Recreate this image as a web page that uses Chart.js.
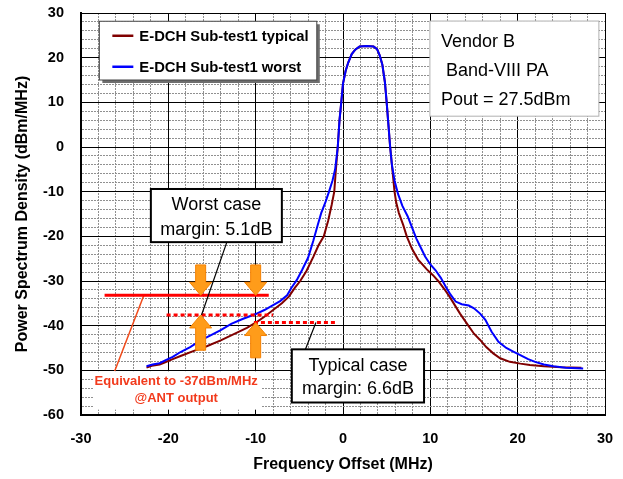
<!DOCTYPE html>
<html>
<head>
<meta charset="utf-8">
<script src="https://cdn.jsdelivr.net/npm/chart.js@4.4.1/dist/chart.umd.min.js"></script>
<style>
  html, body { margin: 0; padding: 0; background: #fff; }
</style>
</head>
<body>
<canvas id="chart" width="623" height="479"></canvas>
<script>
"use strict";

// series labels
const seriesLabels = ["E-DCH Sub-test1 typical", "E-DCH Sub-test1 worst"];

// E-DCH typical (MHz / dBm/MHz)
const typicalFreq = [
  -22.5, -21.9, -21.0, -20.5, -19.5, -18.6, -17.0, -15.6, -14.0, -12.2, -11.0, -9.9,
  -9.0, -8.0, -7.0, -6.2, -5.5, -4.9, -4.2, -3.4, -2.8, -2.2, -1.7, -1.3, -1.0, -0.85,
  -0.6, -0.4, -0.2, 0.0, 0.3, 0.6, 1.0, 1.4, 1.9, 2.7, 3.5, 3.9, 4.2, 4.5, 4.8, 5.0,
  5.2, 5.4, 5.6, 5.75, 5.9, 6.1, 6.4, 6.9, 7.3, 7.9, 8.6, 9.6, 10.3, 10.9, 11.6, 12.2,
  12.8, 13.4, 14.35, 15.0, 15.7, 16.4, 17.2, 18.0, 19.1, 20.3, 21.4, 23.0, 25.0, 27.3
];
const typicalPsd = [
  -49.4, -49.0, -48.7, -48.3, -47.5, -46.8, -45.6, -44.6, -43.3, -41.6, -40.5, -39.2,
  -38.0, -36.5, -35.0, -33.5, -31.5, -30.0, -27.8, -24.6, -22.0, -20.0, -16.5, -13.0, -10.0, -6.0,
  0.0, 6.0, 10.0, 14.2, 17.0, 18.9, 20.8, 21.8, 22.5, 22.6, 22.5, 21.9, 20.5, 18.5, 14.5, 10.0,
  5.0, 0.0, -4.0, -7.0, -10.0, -12.5, -14.8, -17.5, -20.0, -22.8, -25.2, -27.4, -28.7, -30.0, -31.8, -33.5,
  -35.4, -37.3, -40.0, -41.8, -43.2, -44.8, -46.2, -47.3, -48.1, -48.5, -48.8, -49.1, -49.3, -49.4
];

// E-DCH worst
const worstFreq = [
  -22.5, -21.8, -21.0, -20.3, -19.5, -18.6, -17.5, -16.3, -15.0, -14.0, -12.8, -11.5,
  -10.0, -9.0, -8.0, -7.2, -6.4, -5.9, -5.3, -4.7, -4.0, -3.4, -2.9, -2.5, -2.0, -1.6,
  -1.2, -0.9, -0.6, -0.4, -0.2, 0.0, 0.3, 0.6, 1.0, 1.4, 1.9, 2.7, 3.5, 3.9, 4.2, 4.5,
  4.8, 5.0, 5.2, 5.4, 5.6, 5.9, 6.3, 6.8, 7.4, 7.9, 8.4, 8.9, 9.4, 10.0, 10.6, 11.2,
  11.8, 12.3, 12.9, 13.6, 14.4, 15.0, 15.7, 16.3, 17.0, 17.8, 18.7, 19.5, 20.3, 21.2,
  22.0, 23.0, 24.1, 25.5, 27.5
];
const worstPsd = [
  -49.1, -48.7, -48.4, -47.7, -47.0, -45.9, -44.8, -43.3, -42.0, -41.0, -39.6, -38.5,
  -37.4, -36.5, -35.4, -34.5, -33.2, -31.5, -29.8, -27.6, -24.8, -21.0, -17.5, -14.8, -12.3, -10.0,
  -7.5, -5.0, 0.0, 6.0, 10.0, 14.2, 17.0, 18.9, 20.8, 21.8, 22.5, 22.6, 22.5, 21.9, 20.5, 18.5,
  14.5, 10.0, 5.0, 0.0, -4.0, -7.5, -10.5, -13.2, -15.5, -18.0, -20.5, -22.5, -24.5, -26.3, -27.6, -29.3,
  -31.4, -33.0, -34.6, -35.2, -35.5, -36.1, -37.3, -38.7, -41.3, -43.6, -45.0, -45.8, -46.6, -47.5,
  -48.1, -48.7, -49.1, -49.4, -49.6
];

// limit and measured levels (dBm/MHz), with their MHz spans
const limitLevel = -33.2;
const limitSpan = [-27.3, -8.5];
const worstLevel = -37.6;
const worstSpan = [-20.2, -8.0];
const typicalLevel = -39.3;
const typicalSpan = [-10.2, -0.9];
const arrowFreqs = [-16.3, -10.0];

const infoLines = ["Vendor B", " Band-VIII PA", "Pout = 27.5dBm"];
const worstNote = ["Worst case", "margin: 5.1dB"];
const typicalNote = ["Typical case", "margin: 6.6dB"];
const limitNote = ["Equivalent to -37dBm/MHz", "@ANT output"];

const FONT = "'Liberation Sans', Arial, sans-serif";
Chart.defaults.font.family = FONT;
Chart.defaults.color = "#000";

function toPoints(xs, ys) {
  return xs.map((v, i) => ({ x: v, y: ys[i] }));
}

function isMajor(v) {
  return Math.abs(v % 10) < 1e-6;
}

function box(ctx, x, y, w, h, stroke, lw) {
  ctx.fillStyle = "#fff";
  ctx.fillRect(x, y, w, h);
  if (stroke) {
    ctx.strokeStyle = stroke;
    ctx.lineWidth = lw;
    ctx.strokeRect(x, y, w, h);
  }
}

function seg(ctx, x1, y1, x2, y2) {
  ctx.beginPath();
  ctx.moveTo(x1, y1);
  ctx.lineTo(x2, y2);
  ctx.stroke();
}

function arrow(ctx, x, yTail, yTip) {
  const dir = yTip > yTail ? 1 : -1;
  const headL = 13, headW = 11, shaftW = 5;
  const yBase = yTip - dir * headL;
  ctx.beginPath();
  ctx.moveTo(x - shaftW, yTail);
  ctx.lineTo(x + shaftW, yTail);
  ctx.lineTo(x + shaftW, yBase);
  ctx.lineTo(x + headW, yBase);
  ctx.lineTo(x, yTip);
  ctx.lineTo(x - headW, yBase);
  ctx.lineTo(x - shaftW, yBase);
  ctx.closePath();
  ctx.fillStyle = "#ff9c1a";
  ctx.fill();
  ctx.strokeStyle = "#f58000";
  ctx.lineWidth = 1;
  ctx.stroke();
}

const annotations = {
  id: "annotations",
  afterDatasetsDraw(chart) {
    const { ctx, scales: { x, y } } = chart;
    const px = v => x.getPixelForValue(v);
    const py = v => y.getPixelForValue(v);
    ctx.save();

    // red leader from label to limit line
    ctx.strokeStyle = "#f04a1a";
    ctx.lineWidth = 1.5;
    seg(ctx, px(-22.8), py(limitLevel), px(-26.15), py(-50.2));

    // limit line
    ctx.strokeStyle = "#ff0000";
    ctx.lineWidth = 3;
    seg(ctx, px(limitSpan[0]), py(limitLevel), px(limitSpan[1]), py(limitLevel));

    // measured levels, dotted
    ctx.setLineDash([4, 3]);
    seg(ctx, px(worstSpan[0]), py(worstLevel), px(worstSpan[1]), py(worstLevel));
    seg(ctx, px(typicalSpan[0]), py(typicalLevel), px(typicalSpan[1]), py(typicalLevel));
    ctx.setLineDash([]);

    // note leaders
    ctx.strokeStyle = "#000";
    ctx.lineWidth = 1.2;
    seg(ctx, px(-13.3), py(-21.3), px(-16.2), py(worstLevel));
    seg(ctx, px(-4.3), py(-45.3), px(-3.1), py(typicalLevel));

    // arrows: down to the limit, up to measured levels
    arrow(ctx, px(arrowFreqs[0]), py(-26.4), py(limitLevel));
    arrow(ctx, px(arrowFreqs[1]), py(-26.4), py(limitLevel));
    arrow(ctx, px(arrowFreqs[0]), py(-45.5), py(worstLevel));
    arrow(ctx, px(arrowFreqs[1]), py(-47.2), py(typicalLevel));

    // note boxes
    ctx.textAlign = "center";
    ctx.textBaseline = "middle";
    ctx.font = "18px " + FONT;
    let bx = px(-22.0), by = py(-9.4);
    box(ctx, bx, by, px(-7.0) - bx, py(-21.3) - by, "#000", 2);
    ctx.fillStyle = "#000";
    ctx.fillText(worstNote[0], (bx + px(-7.0)) / 2, by + 16);
    ctx.fillText(worstNote[1], (bx + px(-7.0)) / 2, by + 41);

    bx = px(-5.86); by = py(-45.3);
    box(ctx, bx, by, px(9.28) - bx, py(-57.2) - by, "#000", 2);
    ctx.fillStyle = "#000";
    ctx.fillText(typicalNote[0], (bx + px(9.28)) / 2, by + 17);
    ctx.fillText(typicalNote[1], (bx + px(9.28)) / 2, by + 40);

    // limit label
    bx = px(-28.6); by = py(-50.2);
    box(ctx, bx, by, px(-9.3) - bx, py(-58.8) - by);
    ctx.font = "bold 13px " + FONT;
    ctx.fillStyle = "#f23a1c";
    ctx.fillText(limitNote[0], px(-19.1), py(-52.4));
    ctx.fillText(limitNote[1], px(-19.1), py(-56.2));

    // info box
    bx = px(9.95); by = py(28.2);
    box(ctx, bx, by, px(29.3) - bx, py(6.9) - by, "#b0b0b0", 1);
    ctx.textAlign = "left";
    ctx.font = "18px " + FONT;
    ctx.fillStyle = "#000";
    infoLines.forEach((t, i) => ctx.fillText(t, bx + 11, by + 21 + i * 28.8));

    // legend
    bx = px(-27.9); by = py(28.15);
    const lw = px(-3.0) - bx, lh = py(15.0) - by;
    ctx.fillStyle = "#6e6e6e";
    ctx.fillRect(bx + 3, by + 3, lw, lh);
    box(ctx, bx, by, lw, lh, "#444", 1);
    ctx.font = "bold 14.8px " + FONT;
    chart.data.datasets.forEach((ds, i) => {
      const ly = by + 14.5 + i * 31;
      ctx.strokeStyle = ds.borderColor;
      ctx.lineWidth = 2.5;
      seg(ctx, bx + 13, ly, bx + 34, ly);
      ctx.fillStyle = "#000";
      ctx.fillText(ds.label, bx + 40, ly + 1);
    });

    ctx.restore();
  }
};

const gridColor = c => (c.tick && isMajor(c.tick.value) ? "#000" : "#909090");
const gridDash = c => (c.tick && !isMajor(c.tick.value) ? [2, 1] : []);
const tickLabel = v => (isMajor(v) ? v : "");

new Chart(document.getElementById("chart"), {
  type: "line",
  data: {
    datasets: [
      {
        label: seriesLabels[0],
        data: toPoints(typicalFreq, typicalPsd),
        borderColor: "#800000",
        borderWidth: 2,
        pointRadius: 0,
        order: 1
      },
      {
        label: seriesLabels[1],
        data: toPoints(worstFreq, worstPsd),
        borderColor: "#0000ff",
        borderWidth: 2,
        pointRadius: 0,
        order: 0
      }
    ]
  },
  options: {
    responsive: false,
    animation: false,
    devicePixelRatio: 1,
    layout: { padding: { left: 0, right: 18, top: 13, bottom: 0 } },
    plugins: {
      legend: { display: false },
      tooltip: { enabled: false }
    },
    scales: {
      x: {
        type: "linear",
        min: -30,
        max: 30,
        afterFit: s => {
          s.height = 64;
          s.paddingLeft = 0;
          s.paddingRight = 0;
        },
        ticks: {
          stepSize: 2,
          autoSkip: false,
          maxRotation: 0,
          padding: 15,
          callback: tickLabel,
          font: { size: 14.5, weight: "bold" }
        },
        grid: { color: gridColor, lineWidth: 1, drawTicks: false },
        border: { color: "#000", width: 2, dash: gridDash },
        title: {
          display: true,
          text: "Frequency Offset (MHz)",
          font: { size: 16, weight: "bold" },
          padding: { top: 0, bottom: 5 }
        }
      },
      y: {
        min: -60,
        max: 30,
        afterFit: s => {
          s.width = 81;
          s.paddingTop = 0;
          s.paddingBottom = 0;
        },
        ticks: {
          stepSize: 2,
          autoSkip: false,
          padding: 17,
          callback: tickLabel,
          font: { size: 14.5, weight: "bold" }
        },
        grid: { color: gridColor, lineWidth: 1, drawTicks: false },
        border: { color: "#000", width: 2, dash: gridDash },
        title: {
          display: true,
          text: "Power Spectrum Density (dBm/MHz)",
          font: { size: 16, weight: "bold" },
          padding: { top: 13, bottom: 0 }
        }
      }
    }
  },
  plugins: [annotations]
});
</script>
</body>
</html>
